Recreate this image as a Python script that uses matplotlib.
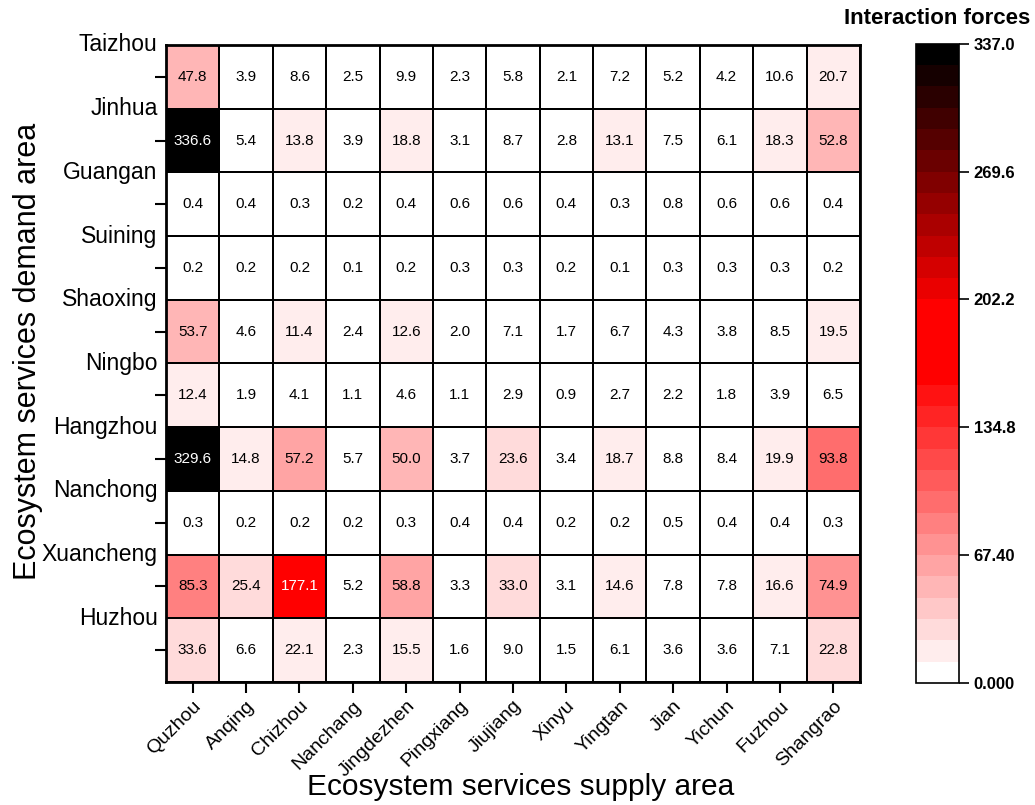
import numpy as np
import matplotlib
matplotlib.use('Agg')
import matplotlib.pyplot as plt
from matplotlib.colors import ListedColormap, BoundaryNorm

plt.rcParams['font.family'] = ['Liberation Sans', 'DejaVu Sans']

supply = ['Quzhou', 'Anqing', 'Chizhou', 'Nanchang', 'Jingdezhen', 'Pingxiang', 'Jiujiang',
          'Xinyu', 'Yingtan', 'Jian', 'Yichun', 'Fuzhou', 'Shangrao']
demand = ['Taizhou', 'Jinhua', 'Guangan', 'Suining', 'Shaoxing', 'Ningbo', 'Hangzhou',
          'Nanchong', 'Xuancheng', 'Huzhou']

taizhou = [47.8, 3.9, 8.6, 2.5, 9.9, 2.3, 5.8, 2.1, 7.2, 5.2, 4.2, 10.6, 20.7]
jinhua = [336.6, 5.4, 13.8, 3.9, 18.8, 3.1, 8.7, 2.8, 13.1, 7.5, 6.1, 18.3, 52.8]
guangan = [0.4, 0.4, 0.3, 0.2, 0.4, 0.6, 0.6, 0.4, 0.3, 0.8, 0.6, 0.6, 0.4]
suining = [0.2, 0.2, 0.2, 0.1, 0.2, 0.3, 0.3, 0.2, 0.1, 0.3, 0.3, 0.3, 0.2]
shaoxing = [53.7, 4.6, 11.4, 2.4, 12.6, 2.0, 7.1, 1.7, 6.7, 4.3, 3.8, 8.5, 19.5]
ningbo = [12.4, 1.9, 4.1, 1.1, 4.6, 1.1, 2.9, 0.9, 2.7, 2.2, 1.8, 3.9, 6.5]
hangzhou = [329.6, 14.8, 57.2, 5.7, 50.0, 3.7, 23.6, 3.4, 18.7, 8.8, 8.4, 19.9, 93.8]
nanchong = [0.3, 0.2, 0.2, 0.2, 0.3, 0.4, 0.4, 0.2, 0.2, 0.5, 0.4, 0.4, 0.3]
xuancheng = [85.3, 25.4, 177.1, 5.2, 58.8, 3.3, 33.0, 3.1, 14.6, 7.8, 7.8, 16.6, 74.9]
huzhou = [33.6, 6.6, 22.1, 2.3, 15.5, 1.6, 9.0, 1.5, 6.1, 3.6, 3.6, 7.1, 22.8]

vmax = 337.0
cbar_ticks = [0.0, 67.4, 134.8, 202.2, 269.6, 337.0]
cbar_labels = ['0.000', '67.40', '134.8', '202.2', '269.6', '337.0']

data = np.array([taizhou, jinhua, guangan, suining, shaoxing, ningbo, hangzhou,
                 nanchong, xuancheng, huzhou])

# 30 stepped colours: white -> red, a red plateau, red -> black
cols = []
for i in range(30):
    if i < 14:
        t = 1 - i / 14
        cols.append((1, t, t))
    elif i < 18:
        cols.append((1, 0, 0))
    else:
        cols.append((1 - (i - 17) / 12, 0, 0))
cmap = ListedColormap(cols)
norm = BoundaryNorm(np.linspace(0, vmax, 31), 30)

fig = plt.figure(figsize=(10.35, 8.05), dpi=100)
ax = fig.add_axes([0.1604, 0.1528, 0.6705, 0.7913])
mesh = ax.pcolormesh(data, cmap=cmap, norm=norm, edgecolors='black', linewidth=1.1)
ax.set_xlim(0, len(supply))
ax.set_ylim(len(demand), 0)

for i in range(len(demand)):
    for j in range(len(supply)):
        v = data[i, j]
        ax.text(j + 0.5, i + 0.5, f'{v:.1f}', ha='center', va='center', fontsize=11,
                color='white' if v > 150 else 'black')

ax.set_xticks(np.arange(len(supply)) + 0.5)
ax.set_xticklabels(supply, rotation=45, ha='right', rotation_mode='anchor', fontsize=14)
ax.set_yticks(np.arange(len(demand)) + 0.5)
ax.set_yticklabels([])
ax.set_yticks(np.arange(len(demand)), minor=True)
ax.set_yticklabels(demand, minor=True, fontsize=16.5, va='center')
ax.tick_params(axis='both', which='major', length=8, width=1.5)
ax.tick_params(axis='y', which='minor', length=0, pad=6)
ax.tick_params(axis='x', which='major', pad=3)
for s in ax.spines.values():
    s.set_linewidth(2)

ax.set_xlabel('Ecosystem services supply area', fontsize=21.5, va='center')
ax.xaxis.set_label_coords(0.511, -0.165)
ax.set_ylabel('Ecosystem services demand area', fontsize=22, va='center')
ax.yaxis.set_label_coords(-0.199, 0.519)

cax = fig.add_axes([0.885, 0.1516, 0.0415, 0.794])
cb = fig.colorbar(mesh, cax=cax, ticks=cbar_ticks)
cb.ax.minorticks_off()
cb.ax.set_yticklabels(cbar_labels, fontsize=12, fontweight='bold')
cb.ax.tick_params(length=7, width=1.2)
cb.outline.set_linewidth(1.2)
fig.text(0.905, 0.977, 'Interaction forces', ha='center', va='center', fontsize=16, fontweight='bold')

fig.savefig('out.png', dpi=100)
